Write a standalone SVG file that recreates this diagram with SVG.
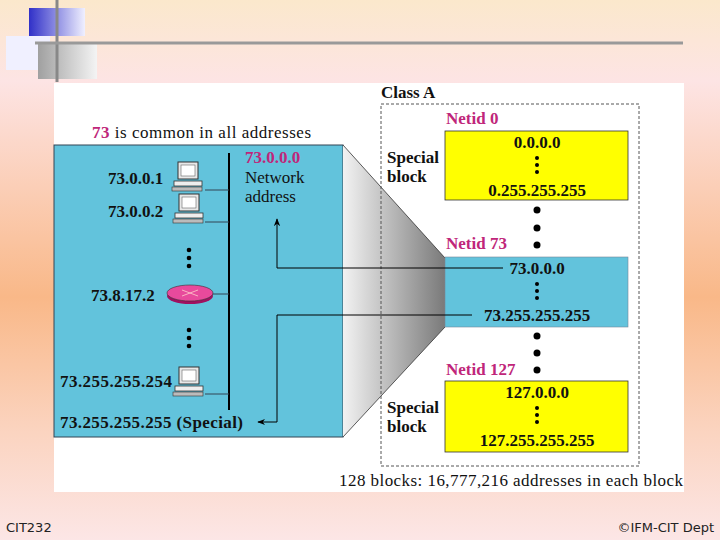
<svg xmlns="http://www.w3.org/2000/svg" width="720" height="540" viewBox="0 0 720 540">
<defs>
<linearGradient id="bg" x1="0" y1="0" x2="0" y2="1">
<stop offset="0" stop-color="#fbe8cc"/><stop offset="0.15" stop-color="#fde4e4"/><stop offset="0.55" stop-color="#f9b888"/><stop offset="0.8" stop-color="#fbd4c0"/><stop offset="1" stop-color="#fce6e6"/>
</linearGradient>
<linearGradient id="sh" x1="0" y1="0" x2="1" y2="0">
<stop offset="0" stop-color="#f2f2f2"/><stop offset="1" stop-color="#7a7a7a"/>
</linearGradient>
<linearGradient id="sq" x1="0" y1="0" x2="1" y2="0">
<stop offset="0" stop-color="#3030c8"/><stop offset="1" stop-color="#f0f0ff"/>
</linearGradient>
<linearGradient id="gq" x1="0" y1="0" x2="1" y2="0">
<stop offset="0" stop-color="#a0a0a0"/><stop offset="1" stop-color="#f4f4f4"/>
</linearGradient>
<g id="pc">
<rect x="6" y="0" width="20" height="17" fill="#e8e8e8" stroke="#333" stroke-width="1"/>
<rect x="9" y="3" width="14" height="11" fill="#fff" stroke="#666" stroke-width="0.6"/>
<rect x="2" y="19" width="28" height="5" fill="#eee" stroke="#333" stroke-width="0.8"/>
<rect x="0" y="25" width="30" height="4" fill="#bbb" stroke="#333" stroke-width="0.6"/>
</g>
<marker id="ar" viewBox="0 0 10 10" refX="9" refY="5" markerWidth="8" markerHeight="8" orient="auto"><path d="M0,1 L10,5 L0,9 L3,5 Z" fill="#000"/></marker>
</defs>
<style>
.b{font-family:"Liberation Serif",serif;font-weight:bold;font-size:17px;fill:#111}
.r{font-family:"Liberation Serif",serif;font-size:17px;fill:#111}
.m{font-family:"Liberation Serif",serif;font-weight:bold;font-size:17px;fill:#c0267a}
.f{font-family:"DejaVu Sans",sans-serif;font-size:13px;fill:#222}
.dot{fill:#000}
</style>
<rect width="720" height="540" fill="url(#bg)"/>
<rect x="29" y="8" width="56" height="28" fill="url(#sq)"/>
<rect x="6" y="36" width="44" height="34" fill="#f0f0ff"/>
<rect x="38" y="42" width="59" height="37" fill="url(#gq)"/>
<line x1="57" y1="0" x2="57" y2="82" stroke="#888" stroke-width="3"/>
<line x1="35" y1="43" x2="683" y2="43" stroke="#999" stroke-width="3"/>
<rect x="54" y="83" width="630" height="409" fill="#fff"/>
<g id="network">
<rect x="54" y="145" width="289" height="292" fill="#62c3dc" stroke="#345" stroke-width="1"/>
<text x="92" y="138" class="r" textLength="219"><tspan class="m">73</tspan> is common in all addresses</text>
<line x1="229" y1="153" x2="229" y2="410" stroke="#000" stroke-width="2"/>
<use href="#pc" x="172" y="162"/><use href="#pc" x="173" y="194"/><use href="#pc" x="173" y="367"/>
<path d="M205,190 H229 M205,222 H229 M205,394 H229 M207,294 H229" stroke="#345" stroke-width="1" fill="none"/>
<text x="108" y="184" class="b">73.0.0.1</text>
<text x="108" y="217" class="b">73.0.0.2</text>
<text x="91" y="301" class="b">73.8.17.2</text>
<text x="60" y="387" class="b" textLength="112">73.255.255.254</text>
<text x="60" y="428" class="b" textLength="183">73.255.255.255 (Special)</text>
<ellipse cx="190" cy="296" rx="23" ry="8" fill="#a01060"/>
<ellipse cx="190" cy="293" rx="23" ry="8" fill="#e84a9c" stroke="#333" stroke-width="0.6"/>
<path d="M182,290 L198,296 M182,296 L198,290" stroke="#fcc" stroke-width="0.8"/>
<circle cx="189" cy="250" r="2.3" class="dot"/><circle cx="189" cy="258" r="2.3" class="dot"/><circle cx="189" cy="266" r="2.3" class="dot"/>
<circle cx="189" cy="330" r="2.3" class="dot"/><circle cx="189" cy="338" r="2.3" class="dot"/><circle cx="189" cy="346" r="2.3" class="dot"/>
<text x="245" y="163" class="m">73.0.0.0</text>
<text x="245" y="183" class="r">Network</text>
<text x="245" y="202" class="r">address</text>
</g>
<polygon points="343,145 445,258 445,327 343,437" fill="url(#sh)"/>
<line x1="343" y1="145" x2="445" y2="258" stroke="#333" stroke-width="0.8"/>
<line x1="343" y1="437" x2="445" y2="327" stroke="#333" stroke-width="0.8"/>
<g id="classA">
<rect x="381" y="104" width="258" height="362" fill="none" stroke="#555" stroke-dasharray="3,2"/>
<text x="381" y="98" class="b">Class A</text>
<text x="446" y="124" class="m">Netid 0</text>
<rect x="445" y="131" width="183" height="69" fill="#ffff00" stroke="#333" stroke-width="0.8"/>
<text x="537" y="148" class="b" text-anchor="middle">0.0.0.0</text>
<text x="537" y="196" class="b" text-anchor="middle">0.255.255.255</text>
<text x="387" y="163" class="b">Special</text><text x="387" y="182" class="b">block</text>
<text x="446" y="249" class="m">Netid 73</text>
<rect x="445" y="257" width="183" height="70" fill="#62c3dc" stroke="#789" stroke-width="0.6"/>
<text x="537" y="274" class="b" text-anchor="middle">73.0.0.0</text>
<text x="537" y="321" class="b" text-anchor="middle">73.255.255.255</text>
<text x="446" y="375" class="m">Netid 127</text>
<rect x="445" y="381" width="183" height="71" fill="#ffff00" stroke="#333" stroke-width="0.8"/>
<text x="537" y="398" class="b" text-anchor="middle">127.0.0.0</text>
<text x="537" y="446" class="b" text-anchor="middle">127.255.255.255</text>
<text x="387" y="413" class="b">Special</text><text x="387" y="432" class="b">block</text>
<g class="dot">
<circle cx="537" cy="158" r="2"/><circle cx="537" cy="165" r="2"/><circle cx="537" cy="172" r="2"/>
<circle cx="537" cy="210" r="3.5"/><circle cx="537" cy="228" r="3.5"/><circle cx="537" cy="245" r="3.5"/>
<circle cx="537" cy="284" r="2"/><circle cx="537" cy="291" r="2"/><circle cx="537" cy="298" r="2"/>
<circle cx="537" cy="336" r="3.5"/><circle cx="537" cy="353" r="3.5"/><circle cx="537" cy="370" r="3.5"/>
<circle cx="537" cy="408" r="2"/><circle cx="537" cy="415" r="2"/><circle cx="537" cy="422" r="2"/>
</g>
<text x="339" y="486" class="r" textLength="344">128 blocks: 16,777,216 addresses in each block</text>
</g>
<g id="connectors" fill="none" stroke="#000" stroke-width="1">
<path d="M503,268 H277 V219" marker-end="url(#ar)"/>
<path d="M472,315 H277 V422 H258" marker-end="url(#ar)"/>
</g>
<text x="6" y="532" class="f">CIT232</text>
<text x="714" y="532" class="f" text-anchor="end">©IFM-CIT Dept</text>
</svg>
